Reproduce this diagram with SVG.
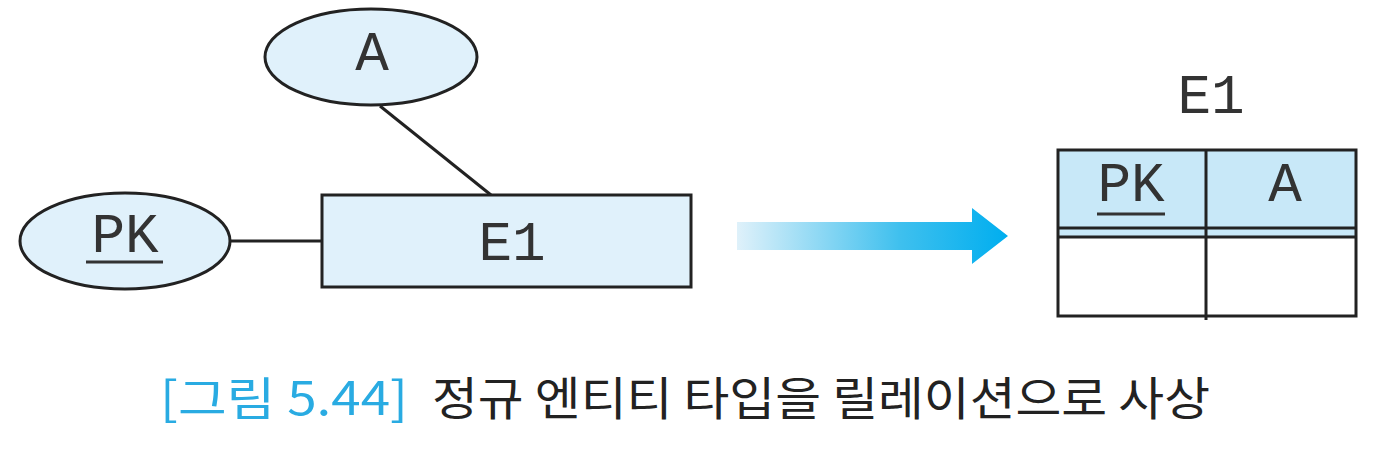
<svg xmlns="http://www.w3.org/2000/svg" width="1390" height="454" viewBox="0 0 1390 454">
<style>
.shape{fill:#e0f1fb;stroke:#222;stroke-width:3}
.mono{font-family:"Liberation Mono","DejaVu Sans Mono",monospace;font-size:56px;fill:#333;text-anchor:middle}
.ul{stroke:#333;stroke-width:3}
.conn{stroke:#222;stroke-width:3;fill:none}
.cap{font-family:"Noto Sans CJK KR","Noto Sans",sans-serif;font-size:46px}
</style>
<defs>
<linearGradient id="arrowGrad" x1="737" y1="0" x2="1008" y2="0" gradientUnits="userSpaceOnUse">
<stop offset="0" stop-color="#dff1fa"/>
<stop offset="0.6" stop-color="#3fc0ee"/>
<stop offset="1" stop-color="#00aeef"/>
</linearGradient>
</defs>
<rect width="1390" height="454" fill="#fff"/>
<g id="connectors">
<line class="conn" x1="380" y1="106" x2="491" y2="195"/>
<line class="conn" x1="230" y1="241" x2="322" y2="241"/>
</g>
<g id="attrA">
<ellipse class="shape" cx="371" cy="57" rx="106" ry="48"/>
<text class="mono" x="372" y="70">A</text>
</g>
<g id="attrPK">
<ellipse class="shape" cx="125" cy="241" rx="105" ry="48"/>
<text class="mono" x="125" y="252">PK</text>
<line class="ul" x1="86" y1="262" x2="163" y2="262"/>
</g>
<g id="entityE1">
<rect class="shape" x="322" y="195" width="369" height="92"/>
<text class="mono" x="512" y="260">E1</text>
</g>
<g id="mapArrow">
<polygon points="737,222 972,222 972,208 1008,236 972,264 972,250 737,250" fill="url(#arrowGrad)"/>
</g>
<g id="relationE1">
<text class="mono" x="1211" y="113">E1</text>
<rect x="1058" y="150" width="298" height="87" fill="#c8e8f8"/>
<rect x="1058" y="150" width="298" height="166" fill="none" stroke="#222" stroke-width="3"/>
<line class="conn" x1="1058" y1="228" x2="1356" y2="228"/>
<line class="conn" x1="1058" y1="237" x2="1356" y2="237"/>
<line class="conn" x1="1206" y1="150" x2="1206" y2="320"/>
<text class="mono" x="1131" y="201">PK</text>
<line class="ul" x1="1097" y1="214" x2="1165" y2="214"/>
<text class="mono" x="1285" y="201">A</text>
</g>
<g id="caption">
<text class="cap" x="160" y="415" fill="#29abe2" textLength="248" lengthAdjust="spacingAndGlyphs">[그림 5.44]</text>
<text class="cap" x="432" y="415" fill="#222" textLength="778" lengthAdjust="spacingAndGlyphs">정규 엔티티 타입을 릴레이션으로 사상</text>
</g>
</svg>
